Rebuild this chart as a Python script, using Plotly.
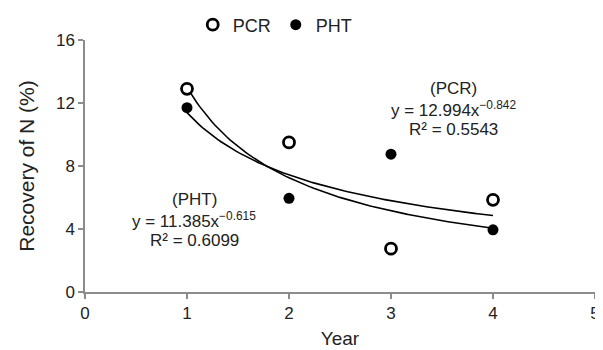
import numpy as np
import plotly.graph_objects as go

years = [1, 2, 3, 4]
pcr = [12.9, 9.5, 2.75, 5.85]
pht = [11.7, 5.95, 8.75, 3.95]

pcr_a, pcr_b = 12.994, -0.842
pht_a, pht_b = 11.385, -0.615

x_ticks = [0, 1, 2, 3, 4, 5]
y_ticks = [0, 4, 8, 12, 16]

xfit = np.linspace(1, 4, 100)

font = "Liberation Sans, Arial, sans-serif"
fig = go.Figure()
fig.add_trace(go.Scatter(x=xfit, y=pcr_a * xfit ** pcr_b, mode="lines",
                         line=dict(color="black", width=1.6), showlegend=False, hoverinfo="skip"))
fig.add_trace(go.Scatter(x=xfit, y=pht_a * xfit ** pht_b, mode="lines",
                         line=dict(color="black", width=1.6), showlegend=False, hoverinfo="skip"))
fig.add_trace(go.Scatter(x=years, y=pcr, mode="markers", name="PCR",
                         marker=dict(symbol="circle", size=11, color="white",
                                     line=dict(color="black", width=2.8))))
fig.add_trace(go.Scatter(x=years, y=pht, mode="markers", name="PHT",
                         marker=dict(symbol="circle", size=11, color="black",
                                     line=dict(color="black", width=0))))

ann_font = dict(family=font, size=17, color="#222")
def ann(x, y, text):
    fig.add_annotation(x=x, y=y, xref="x", yref="y", text=text, showarrow=False,
                       font=ann_font, xanchor="center", yanchor="middle")

ann(3.61, 12.95, "(PCR)")
ann(3.61, 11.65, "y = 12.994x<sup>−0.842</sup>")
ann(3.61, 10.3, "R² = 0.5543")
ann(1.07, 5.9, "(PHT)")
ann(1.07, 4.6, "y = 11.385x<sup>−0.615</sup>")
ann(1.07, 3.25, "R² = 0.6099")

axis_common = dict(showline=True, linecolor="#8c8c8c", linewidth=1.5,
                   ticks="outside", tickcolor="#8c8c8c", ticklen=5, tickwidth=1.5,
                   showgrid=False, zeroline=False, automargin=False,
                   tickfont=dict(family=font, size=17, color="#222"))
fig.update_xaxes(range=[0, 5], tickmode="array", tickvals=x_ticks,
                 title=dict(text="Year", font=dict(family=font, size=19, color="#222"), standoff=10),
                 **axis_common)
fig.update_yaxes(range=[0, 16], tickmode="array", tickvals=y_ticks,
                 title=dict(text="Recovery of N (%)", font=dict(family=font, size=21, color="#222"), standoff=16),
                 **axis_common)

fig.update_layout(
    width=603, height=350,
    margin=dict(l=77, r=16, t=32, b=66, autoexpand=False),
    plot_bgcolor="white", paper_bgcolor="white",
    font=dict(family=font, color="#222"),
    legend=dict(orientation="h", x=0.373, y=1 - 17 / 350, yref="container",
                xanchor="center", yanchor="middle",
                font=dict(family=font, size=18, color="#222"), itemwidth=30,
                bgcolor="rgba(0,0,0,0)"),
)
fig.write_html("out.html")
